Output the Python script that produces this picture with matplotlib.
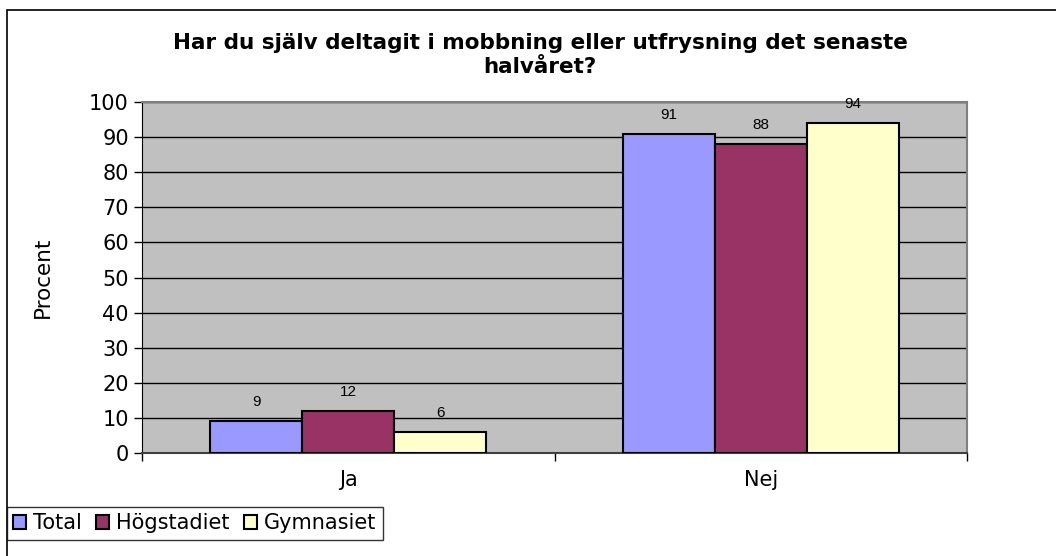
import matplotlib
matplotlib.use("Agg")
import matplotlib.pyplot as plt
import numpy as np
from matplotlib.patches import Rectangle

# data
categories = ["Ja", "Nej"]
series_names = ["Total", "Högstadiet", "Gymnasiet"]
total = [9, 91]
hogstadiet = [12, 88]
gymnasiet = [6, 94]
colors = ["#9999FF", "#993366", "#FFFFCC"]

W, H = 1056, 556
fig = plt.figure(figsize=(W / 100, H / 100), dpi=100)
plt.rcParams['font.family'] = ['DejaVu Sans']

# plot area in pixels: left 142, right 967, top 102, bottom 453
ax = fig.add_axes([142 / W, 1 - 453 / H, (967 - 142) / W, (453 - 102) / H])
ax.set_facecolor("#C0C0C0")

x = np.arange(len(categories))
width = 0.223
values = [total, hogstadiet, gymnasiet]
for i, (name, vals, col) in enumerate(zip(series_names, values, colors)):
    pos = x + (i - 1) * width
    bars = ax.bar(pos, vals, width, color=col, edgecolor="black", linewidth=1.5,
                  label=name, zorder=3)
    for b, v in zip(bars, vals):
        ax.annotate(str(v), (b.get_x() + b.get_width() / 2, v), xytext=(0, 19),
                    textcoords="offset pixels", ha="center", va="center",
                    fontsize=11, family="Liberation Sans", zorder=4)

ax.set_xlim(-0.5, 1.5)
ax.set_ylim(0, 100)
ax.set_yticks(range(0, 101, 10))
ax.yaxis.grid(True, color="black", linewidth=1)
ax.set_axisbelow(True)
ax.tick_params(axis="y", labelsize=15, length=6, direction="out", width=1)

ax.set_xticks(x)
ax.set_xticklabels(categories, fontsize=15)
ax.tick_params(axis="x", which="major", length=0, pad=12)
ax.set_xticks([-0.5, 0.5, 1.5], minor=True)
ax.tick_params(axis="x", which="minor", length=6, width=1)

ax.spines["top"].set_color("#808080")
ax.spines["right"].set_color("#808080")
ax.spines["top"].set_linewidth(1.5)
ax.spines["right"].set_linewidth(1.5)
ax.spines["left"].set_color("black")
ax.spines["bottom"].set_color("#404040")
ax.spines["bottom"].set_linewidth(1.5)

ax.set_ylabel("Procent", fontsize=15.5, labelpad=26)

fig.text(540 / W, 1 - 55 / H,
         "Har du själv deltagit i mobbning eller utfrysning det senaste\nhalvåret?",
         ha="center", va="center", fontsize=15.5, fontweight="bold", linespacing=1.25)

leg = fig.legend(loc="upper left", bbox_to_anchor=(7 / W, 1 - 507 / H), ncol=3,
                 fontsize=15, frameon=True, fancybox=False, edgecolor="black",
                 handlelength=0.6, handleheight=0.6, handletextpad=0.35,
                 columnspacing=0.7, borderpad=0.3, borderaxespad=0)
leg.get_frame().set_linewidth(1)

# outer chart border
fig.patches.append(Rectangle((7 / W, -0.05), 1.05, 1 - 10 / H + 0.05,
                             transform=fig.transFigure, fill=False,
                             edgecolor="black", linewidth=1.2))

fig.savefig("out.png", dpi=100)
